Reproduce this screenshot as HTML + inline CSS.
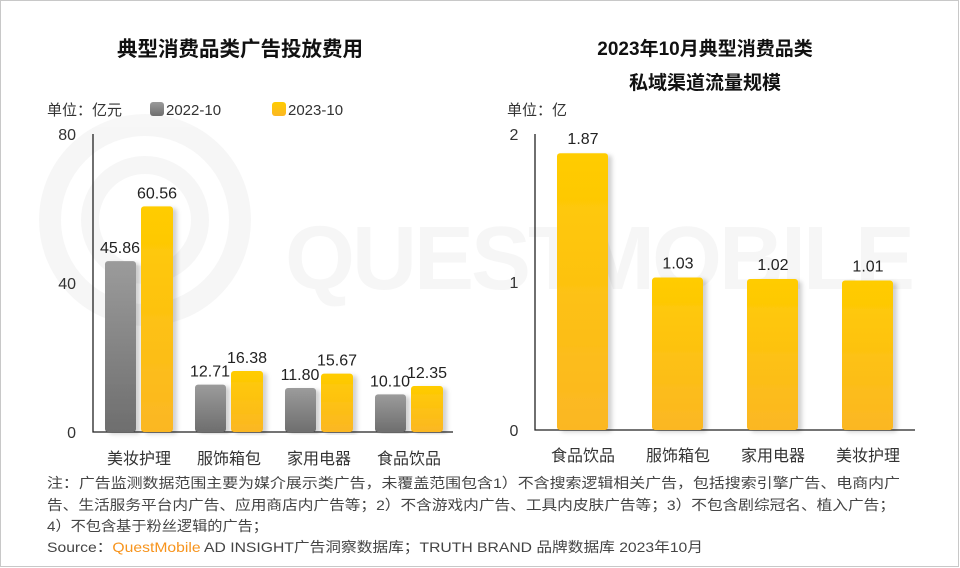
<!DOCTYPE html>
<html><head><meta charset="utf-8">
<style>
body{margin:0;background:#fff;}
svg{display:block;font-family:"Liberation Sans","Noto Sans CJK SC",sans-serif;}
</style></head>
<body>
<svg id="c" width="960" height="568" viewBox="0 0 960 568">
<defs>
<linearGradient id="gy" x1="0" y1="0" x2="0" y2="1"><stop offset="0" stop-color="#ffcc00"/><stop offset="1" stop-color="#fbb724"/></linearGradient>
<linearGradient id="gg" x1="0" y1="0" x2="0" y2="1"><stop offset="0" stop-color="#9b9b9b"/><stop offset="1" stop-color="#6e6e6e"/></linearGradient>
<filter id="sh" x="-20%" y="-5%" width="150%" height="110%"><feDropShadow dx="4" dy="2" stdDeviation="2" flood-color="#000" flood-opacity="0.18"/></filter>
</defs>
<rect x="0.5" y="0.5" width="958" height="566" fill="#fff" stroke="#c8c8c8"/>
<g opacity="0.03">
<circle cx="145" cy="220" r="95" fill="none" stroke="#000" stroke-width="22"/>
<circle cx="145" cy="220" r="55" fill="none" stroke="#000" stroke-width="18"/>
<text x="285" y="289" font-size="90" font-weight="bold" fill="#000" textLength="630">QUESTMOBILE</text>
</g>
<text x="240" y="56" text-anchor="middle" font-size="20.5" font-weight="bold" fill="#111">典型消费品类广告投放费用</text>
<text x="705" y="55" text-anchor="middle" font-size="19" font-weight="bold" fill="#111">2023年10月典型消费品类</text>
<text x="705" y="89" text-anchor="middle" font-size="19" font-weight="bold" fill="#111">私域渠道流量规模</text>
<text x="47" y="115" font-size="15" fill="#333">单位：亿元</text>
<rect x="150" y="102" width="14" height="14" rx="3" fill="url(#gg)"/>
<text x="166" y="115" font-size="15" fill="#333">2022-10</text>
<rect x="272" y="102" width="14" height="14" rx="3" fill="url(#gy)"/>
<text x="288" y="115" font-size="15" fill="#333">2023-10</text>
<text x="507" y="115" font-size="15" fill="#333">单位：亿</text>
<g id="L"></g><g id="R"></g>
<g font-size="14" fill="#444">
<text x="47" y="488" textLength="853" lengthAdjust="spacingAndGlyphs">注：广告监测数据范围主要为媒介展示类广告，未覆盖范围包含1）不含搜索逻辑相关广告，包括搜索引擎广告、电商内广</text>
<text x="47" y="510" textLength="848" lengthAdjust="spacingAndGlyphs">告、生活服务平台内广告、应用商店内广告等；2）不含游戏内广告、工具内皮肤广告等；3）不包含剧综冠名、植入广告；</text>
<text x="47" y="531" textLength="221" lengthAdjust="spacingAndGlyphs">4）不包含基于粉丝逻辑的广告；</text>
<text x="47" y="552" textLength="656" lengthAdjust="spacingAndGlyphs">Source：<tspan fill="#f7941d">QuestMobile</tspan> AD INSIGHT广告洞察数据库；TRUTH BRAND 品牌数据库 2023年10月</text>
</g>
</svg>
<script>
const leftCats=["美妆护理","服饰箱包","家用电器","食品饮品"];
const left2022=[45.86,12.71,11.80,10.10];
const left2023=[60.56,16.38,15.67,12.35];
const leftTicks=[0,40,80];
const rightCats=["食品饮品","服饰箱包","家用电器","美妆护理"];
const rightVals=[1.87,1.03,1.02,1.01];
const rightTicks=[0,1,2];
const NS="http://www.w3.org/2000/svg";
function mk(p,t,a,txt){const e=document.createElementNS(NS,t);for(const k in a)e.setAttribute(k,a[k]);if(txt!==undefined)e.textContent=txt;p.appendChild(e);return e;}
(function(){
const g=document.getElementById('L');
const y0=432,yTop=134,max=80,ax=93;
const y=v=>y0-(v/max)*(y0-yTop);
const ln=mk(g,'path',{d:`M${ax} ${yTop}V${y0}H453`,stroke:'#222','stroke-width':1.3,fill:'none'});


leftTicks.forEach(t=>{const e=mk(g,'text',{x:76,y:y(t)+6,'text-anchor':'end','font-size':16,fill:'#333'},t);

});
leftCats.forEach((c,i)=>{
const gx=105+i*90;
const b1=mk(g,'rect',{x:gx,y:y(left2022[i]),width:31,height:y0-y(left2022[i]),rx:3,fill:'url(#gg)',filter:'url(#sh)'});


const b2=mk(g,'rect',{x:gx+36,y:y(left2023[i]),width:32,height:y0-y(left2023[i]),rx:3,fill:'url(#gy)',filter:'url(#sh)'});


const l1=mk(g,'text',{x:gx+15,y:y(left2022[i])-8,'text-anchor':'middle','font-size':16,fill:'#222'},left2022[i].toFixed(2));


const l2=mk(g,'text',{x:gx+52,y:y(left2023[i])-8,'text-anchor':'middle','font-size':16,fill:'#222'},left2023[i].toFixed(2));


const cl=mk(g,'text',{x:gx+34,y:464,'text-anchor':'middle','font-size':16,fill:'#333'},c);


});
})();
(function(){
const g=document.getElementById('R');
const y0=430,yTop=134,max=2,ax=535;
const y=v=>y0-(v/max)*(y0-yTop);
const ln=mk(g,'path',{d:`M${ax} ${yTop}V${y0}H915`,stroke:'#222','stroke-width':1.3,fill:'none'});


rightTicks.forEach(t=>{const e=mk(g,'text',{x:514,y:y(t)+6,'text-anchor':'middle','font-size':16,fill:'#333'},t);

});
rightCats.forEach((c,i)=>{
const bx=557+i*95;
const b=mk(g,'rect',{x:bx,y:y(rightVals[i]),width:51,height:y0-y(rightVals[i]),rx:3,fill:'url(#gy)',filter:'url(#sh)'});


const l=mk(g,'text',{x:bx+26,y:y(rightVals[i])-9,'text-anchor':'middle','font-size':16,fill:'#222'},rightVals[i].toFixed(2));


const cl=mk(g,'text',{x:bx+26,y:461,'text-anchor':'middle','font-size':16,fill:'#333'},c);


});
})();
</script>
</body></html>
